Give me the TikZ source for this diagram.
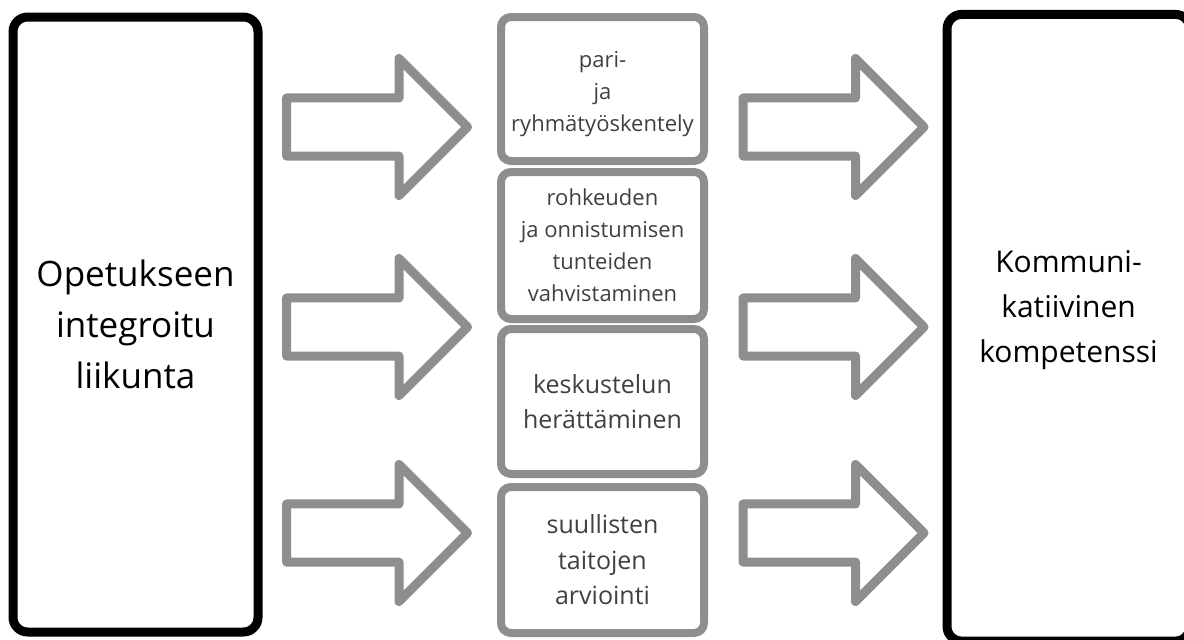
\documentclass[tikz,border=0pt]{standalone}
\usepackage{fontspec}
\setmainfont{Open Sans}
\usepackage{xcolor}
\usetikzlibrary{shapes.arrows}

\definecolor{framegray}{RGB}{142,142,142}
\definecolor{textgray}{RGB}{64,64,64}

\tikzset{
    mainbox/.style={draw=black, line width=6.75pt, rounded corners=11pt, align=center, inner sep=0pt},
    topicbox/.style={draw=framegray, line width=6pt, rounded corners=7.5pt, minimum width=152.25pt, align=center, inner sep=0pt, text=textgray},
    smalltext/.style={font={\fontsize{16.5pt}{24pt}\selectfont}},
    midtext/.style={font={\fontsize{18.75pt}{26.6pt}\selectfont}},
    blockarrow/.style={single arrow, draw=framegray, fill=white, line width=6.75pt, line join=round, text height=18.4pt, text depth=18.4pt, minimum width=96pt, minimum height=135.75pt, single arrow head extend=29.6pt, inner sep=0pt}
}

\begin{document}
\begin{tikzpicture}[x=0.75pt, y=-0.75pt]
        \useasboundingbox (0,0) rectangle (1184,639);

        \node[mainbox, minimum width=183.75pt, minimum height=461.25pt, font={\fontsize{26.25pt}{38.25pt}\selectfont}] (liikunta) at (135.5, 324.5) {Opetukseen\\integroitu\\liikunta};

        \node[topicbox, smalltext, minimum height=108pt] (ryhmatyo) at (602.5, 89) {\rule{0pt}{20pt}pari-\\ja\\ryhmätyöskentely};
        \node[topicbox, smalltext, minimum height=110.25pt] (rohkeus) at (602.5, 245.5) {rohkeuden\\ja onnistumisen\\tunteiden\\vahvistaminen};
        \node[topicbox, midtext, minimum height=108.75pt] (keskustelu) at (602.5, 401.5) {keskustelun\\herättäminen};
        \node[topicbox, midtext, minimum height=109.5pt] (arviointi) at (602.5, 560) {suullisten\\taitojen\\arviointi};

        \node[mainbox, minimum width=182.25pt, minimum height=470pt, label={[yshift=13.5pt, align=center, font={\fontsize{22.5pt}{33.75pt}\selectfont}]center:Kommuni-\\katiivinen\\kompetenssi}] (kompetenssi) at (1068.5, 327.75) {};

        % arrows into the topics
        \node[blockarrow] (in1) at (362.5, 127) {};
        \node[blockarrow] (in2) at (362.5, 327) {};
        \node[blockarrow] (in3) at (362.5, 533) {};
        % arrows out of the topics
        \node[blockarrow] (out1) at (819, 127) {};
        \node[blockarrow] (out2) at (819, 327) {};
        \node[blockarrow] (out3) at (819, 533) {};
    \end{tikzpicture}
\end{document}
